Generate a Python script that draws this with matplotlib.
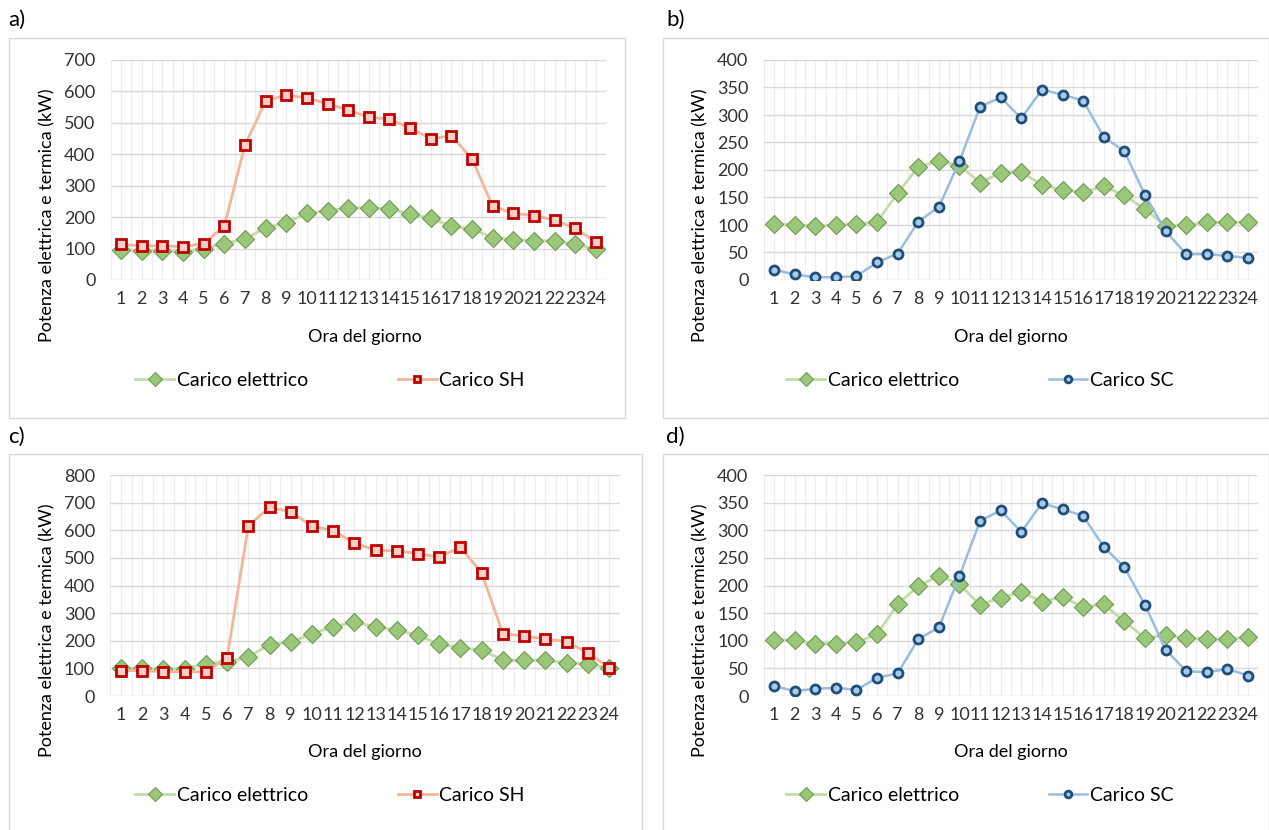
import matplotlib
matplotlib.use("Agg")
import matplotlib.pyplot as plt
from matplotlib.patches import Rectangle
import numpy as np

plt.rcParams['font.family'] = ['Lato', 'DejaVu Sans']

hours = list(range(1, 25))
hour_labels = [str(h) for h in hours]

# Panel a
a_elettrico = [96, 93, 91, 90, 100, 116, 131, 166, 182, 212, 220, 230, 230, 226, 210, 196, 171, 162, 135, 128, 124, 125, 114, 98]
a_sh = [113, 109, 109, 106, 116, 171, 429, 569, 589, 579, 561, 541, 518, 511, 484, 449, 459, 385, 235, 212, 205, 191, 164, 121]
# Panel b
b_elettrico = [102, 100, 98, 100, 102, 105, 158, 206, 216, 208, 177, 195, 196, 173, 164, 160, 170, 154, 129, 98, 100, 105, 105, 105]
b_sc = [19, 10, 5, 5, 7, 32, 48, 106, 133, 216, 315, 332, 294, 346, 337, 326, 260, 234, 155, 89, 47, 47, 44, 40]
# Panel c
c_elettrico = [100, 100, 99, 99, 117, 123, 141, 186, 194, 226, 251, 267, 251, 238, 220, 187, 175, 166, 130, 129, 129, 121, 115, 103]
c_sh = [92, 92, 88, 88, 88, 138, 616, 683, 667, 616, 598, 554, 528, 525, 515, 503, 539, 445, 226, 217, 206, 197, 156, 103]
# Panel d
d_elettrico = [102, 101, 95, 95, 97, 112, 166, 199, 218, 202, 165, 178, 188, 171, 179, 161, 166, 135, 105, 110, 105, 104, 103, 106]
d_sc = [18, 9, 13, 15, 11, 33, 41, 103, 124, 217, 317, 336, 297, 349, 338, 326, 270, 233, 165, 84, 45, 43, 49, 37]

panel_letters = ['a)', 'b)', 'c)', 'd)']
ylabel = 'Potenza elettrica e termica (kW)'
xlabel = 'Ora del giorno'
name_el = 'Carico elettrico'
name_sh = 'Carico SH'
name_sc = 'Carico SC'

W, H = 1269, 830
fig = plt.figure(figsize=(W / 100, H / 100), dpi=100)

def fx(x):
    return x / W

def fy(y):
    return 1 - y / H

GREEN_LINE = '#C3DCA8'
GREEN_FACE = '#9BC77A'
GREEN_EDGE = '#6F9A52'
RED_LINE = '#F5B59A'
RED_FACE = '#F8D0C8'
RED_EDGE = '#C00000'
BLUE_LINE = '#9ABCE0'
BLUE_FACE = '#A9CBEA'
BLUE_EDGE = '#1F4E79'

panels = [
    dict(box=(9, 38, 625, 418), ax=(110.7, 60, 606.3, 280), ymax=700, step=100,
         el=a_elettrico, th=a_sh, kind='sh', lab=(8, 20), ylx=47, xl=(365, 337), leg=(330, 380)),
    dict(box=(663, 38, 1269, 418), ax=(763.7, 60, 1258.3, 280), ymax=400, step=50,
         el=b_elettrico, th=b_sc, kind='sc', lab=(666, 20), ylx=700, xl=(1011, 337), leg=(980, 380)),
    dict(box=(9, 454, 642, 832), ax=(110.4, 475, 619.6, 696), ymax=800, step=100,
         el=c_elettrico, th=c_sh, kind='sh', lab=(8, 437), ylx=47, xl=(365, 752), leg=(330, 795)),
    dict(box=(663, 454, 1269, 832), ax=(763.7, 475, 1258.3, 696), ymax=400, step=50,
         el=d_elettrico, th=d_sc, kind='sc', lab=(666, 437), ylx=700, xl=(1011, 752), leg=(980, 795)),
]

for i, p in enumerate(panels):
    x0, y0, x1, y1 = p['box']
    fig.patches.append(Rectangle((fx(x0), fy(y1)), fx(x1 - x0), (y1 - y0) / H,
                                 transform=fig.transFigure, facecolor='none',
                                 edgecolor='#D9D9D9', linewidth=1.0))
    fig.text(fx(p['lab'][0]), fy(p['lab'][1]), panel_letters[i], fontsize=16,
             ha='left', va='center', color='#000000')

    l, t, r, b = p['ax']
    ax = fig.add_axes([fx(l), fy(b), fx(r - l), (b - t) / H])
    ax.set_xlim(0.5, 24.5)
    ax.set_ylim(0, p['ymax'])
    ax.set_yticks(np.arange(0, p['ymax'] + 1, p['step']))
    ax.set_xticks(hours)
    ax.set_xticklabels(hour_labels)
    for s in ax.spines.values():
        s.set_visible(False)
    ax.tick_params(axis='both', length=0, labelsize=13, colors='#333333')
    ax.tick_params(axis='x', pad=8)
    ax.tick_params(axis='y', pad=11)
    # vertical light gridlines (every half category)
    for xv in np.arange(0.5, 24.51, 0.5):
        ax.axvline(xv, color='#EDEDED', linewidth=0.9, zorder=0)
    for yv in np.arange(0, p['ymax'] + 1, p['step']):
        ax.axhline(yv, color='#D9D9D9', linewidth=1.0, zorder=0.5)

    h1, = ax.plot(hours, p['el'], color=GREEN_LINE, linewidth=2.0, marker='D',
                  markersize=9, markerfacecolor=GREEN_FACE, markeredgecolor=GREEN_EDGE,
                  markeredgewidth=0.8, zorder=3, label=name_el)
    if p['kind'] == 'sh':
        h2, = ax.plot(hours, p['th'], color=RED_LINE, linewidth=2.0, marker='s',
                      markersize=6.5, markerfacecolor=RED_FACE, markeredgecolor=RED_EDGE,
                      markeredgewidth=2.0, zorder=4, label=name_sh)
    else:
        h2, = ax.plot(hours, p['th'], color=BLUE_LINE, linewidth=1.8, marker='o',
                      markersize=6.5, markerfacecolor=BLUE_FACE, markeredgecolor=BLUE_EDGE,
                      markeredgewidth=2.0, zorder=4, label=name_sc)

    fig.text(fx(p['ylx']), fy((t + b) / 2 + 45), ylabel, rotation=90, fontsize=13,
             ha='center', va='center', color='#000000')
    fig.text(fx(p['xl'][0]), fy(p['xl'][1]), xlabel, fontsize=13,
             ha='center', va='center', color='#000000')
    fig.legend(handles=[h1, h2], loc='center', bbox_to_anchor=(fx(p['leg'][0]), fy(p['leg'][1])),
               ncol=2, frameon=False, fontsize=14, handlelength=2.0, handletextpad=0.15,
               columnspacing=4.6, borderpad=0, markerscale=0.75)

fig.savefig('out.png', dpi=100, facecolor='white')
